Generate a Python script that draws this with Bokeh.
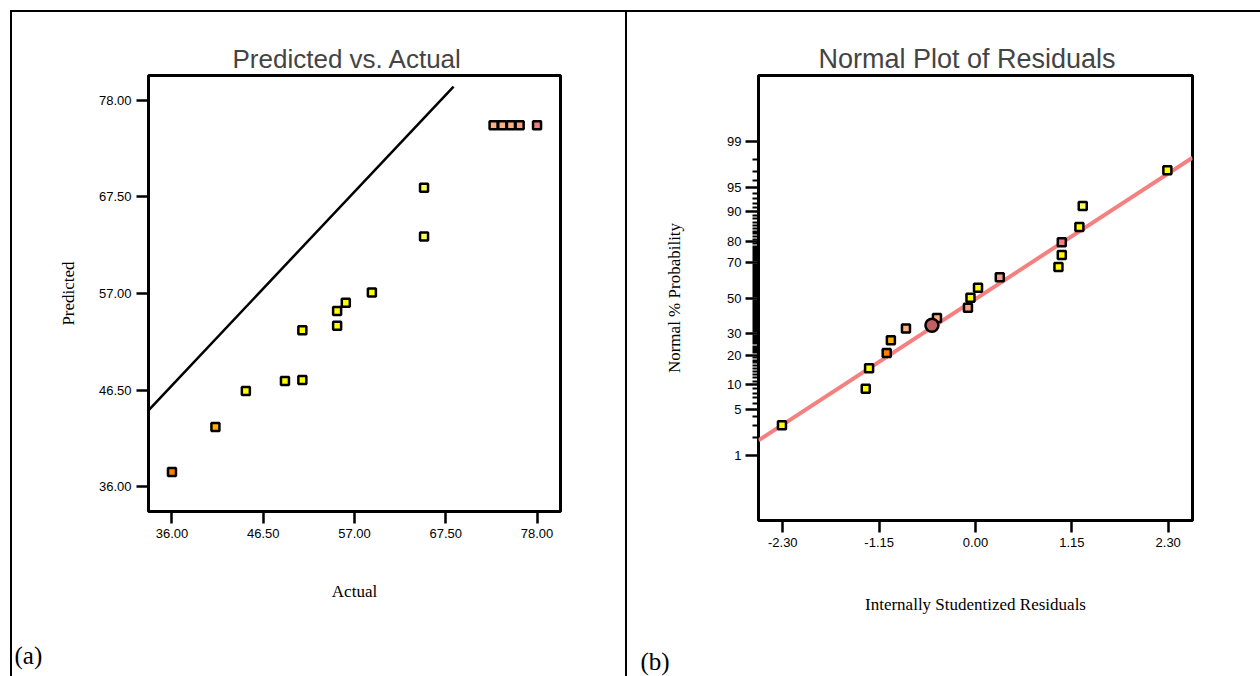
from statistics import NormalDist
from bokeh.plotting import figure
from bokeh.models import (ColumnDataSource, FixedTicker, NumeralTickFormatter,
                          CustomJSTickFormatter, Title, Range1d, Spacer)
from bokeh.layouts import column, row
from bokeh.embed import file_html
from bokeh.resources import INLINE

# ---------------- Panel (a): Predicted vs. Actual ----------------
actual = [36.0, 41.0, 44.5, 49.0, 51.0, 51.0, 55.0, 55.0, 56.0, 59.0,
          65.0, 65.0, 73.0, 74.0, 75.0, 76.0, 78.0]
predicted = [37.6, 42.5, 46.4, 47.5, 47.6, 53.0, 53.5, 55.1, 56.0, 57.1,
             63.2, 68.5, 75.3, 75.3, 75.3, 75.3, 75.3]
colors_a = ["#FF8000", "#FFB000", "#FFFF00", "#FFFF00", "#FFFF00", "#FFFF00",
            "#FFFF00", "#FFFF00", "#FFFF00", "#FFFF00", "#FFFF60", "#FFFF60",
            "#FFB080", "#FFB080", "#FFB080", "#F8A088", "#F08080"]
diag_x = [33.3, 68.4]
diag_y = [44.3, 79.5]
ticks_a = [36.0, 46.5, 57.0, 67.5, 78.0]

# ---------------- Panel (b): Normal Plot of Residuals ----------------
residuals = [-2.31, -1.31, -1.27, -1.06, -1.01, -0.83, -0.46, -0.09, -0.06,
             0.03, 0.29, 0.99, 1.03, 1.03, 1.24, 1.28, 2.29]
normal_pct = [3.0, 9.0, 15.0, 20.9, 26.8, 32.7, 38.5, 44.5, 50.4,
              56.3, 62.2, 67.9, 73.9, 79.7, 85.5, 91.4, 97.1]
colors_b = ["#FFFF00", "#FFFF00", "#FFFF00", "#FF8000", "#FFB000", "#FFB080",
            "#FFB080", "#F8A088", "#FFFF00", "#FFFF00", "#F8A088", "#FFFF00",
            "#FFFF00", "#F08080", "#FFFF00", "#FFFF60", "#FFFF00"]
hl_resid = [-0.52]
hl_pct = [34.5]
fit_resid = [-2.59, 2.59]
fit_pct = [1.77, 98.14]
ticks_b_x = [-2.30, -1.15, 0.00, 1.15, 2.30]
ticks_b_pct = [1, 5, 10, 20, 30, 50, 70, 80, 90, 95, 99]
minor_b_pct = [v for v in range(2, 99) if v not in ticks_b_pct]

nd = NormalDist()
def probit(v):
    return nd.inv_cdf(v / 100.0)

SANS = "Liberation Sans"
SERIF = "Liberation Serif"
H = 664


def style(p, title_size, title_offset):
    p.outline_line_color = "black"
    p.outline_line_width = 3
    p.grid.visible = False
    p.title.text_font = SANS
    p.title.text_font_size = title_size
    p.title.text_font_style = "normal"
    p.title.align = "left"
    p.title.offset = title_offset
    p.title.standoff = 4
    for ax in (p.xaxis[0], p.yaxis[0]):
        ax.axis_line_color = None
        ax.major_tick_line_width = 2.5
        ax.major_tick_in = 0
        ax.major_tick_out = 12
        ax.minor_tick_in = 0
        ax.minor_tick_out = 0
        ax.major_label_text_font = SANS
        ax.major_label_text_font_size = "13px"
        ax.major_label_text_color = "black"
        ax.major_label_standoff = 5
        ax.axis_label_text_font = SERIF
        ax.axis_label_text_font_size = "17px"
        ax.axis_label_text_font_style = "normal"
        ax.axis_label_text_color = "black"


def below_title(p, text, size, align, offset, standoff):
    p.add_layout(Title(text=text, align=align, offset=offset, standoff=standoff,
                       text_font=SERIF, text_font_size=size,
                       text_font_style="normal", text_color="black"), "below")


# ---- figure (a)
pa = figure(title="Predicted vs. Actual", frame_width=412, frame_height=436,
            min_border_left=136, min_border_right=65, min_border_top=62,
            min_border_bottom=H - 62 - 436,
            x_range=Range1d(33.3, 80.7), y_range=Range1d(33.3, 80.7),
            toolbar_location=None, output_backend="svg")
style(pa, "26px", 84)
pa.xaxis.ticker = FixedTicker(ticks=ticks_a)
pa.yaxis.ticker = FixedTicker(ticks=ticks_a)
pa.xaxis.formatter = NumeralTickFormatter(format="0.00")
pa.yaxis.formatter = NumeralTickFormatter(format="0.00")
pa.yaxis.axis_label = "Predicted"
pa.yaxis.axis_label_standoff = 18
below_title(pa, "Actual", "17px", "center", 0, 78)
below_title(pa, "(a)", "25px", "left", -134, 0)

pa.line(diag_x, diag_y, line_color="black", line_width=2.5)
src_a = ColumnDataSource(dict(x=actual, y=predicted, c=colors_a))
pa.scatter("x", "y", source=src_a, marker="square", size=8, line_width=2.5,
           line_color="black", fill_color="c")

# ---- figure (b)
pb = figure(title="Normal Plot of Residuals", frame_width=434, frame_height=445,
            min_border_left=131, min_border_right=55, min_border_top=63,
            min_border_bottom=H - 63 - 445,
            x_range=Range1d(-2.59, 2.59), y_range=Range1d(-3.29, 3.30),
            toolbar_location=None, output_backend="svg")
style(pb, "27px", 60)
pb.xaxis.ticker = FixedTicker(ticks=ticks_b_x)
pb.xaxis.formatter = NumeralTickFormatter(format="0.00")
zt = [probit(v) for v in ticks_b_pct]
pb.yaxis.ticker = FixedTicker(ticks=zt, minor_ticks=[probit(v) for v in minor_b_pct])
pb.yaxis.formatter = CustomJSTickFormatter(
    args=dict(zs=zt, labs=[str(v) for v in ticks_b_pct]),
    code="""
    let best = 0, bd = Infinity;
    for (let i = 0; i < zs.length; i++) {
        const d = Math.abs(zs[i] - tick);
        if (d < bd) { bd = d; best = i; }
    }
    return labs[best];
    """)
pb.yaxis.major_tick_out = 13
pb.yaxis.minor_tick_out = 6
pb.yaxis.minor_tick_line_width = 2
pb.yaxis.minor_tick_line_color = "black"
pb.yaxis.major_label_standoff = 4
pb.yaxis.axis_label = "Normal % Probability"
pb.yaxis.axis_label_standoff = 40
below_title(pb, "Internally Studentized Residuals", "17px", "center", 0, 87)
below_title(pb, "(b)", "25px", "left", -118, -24)

pb.line(fit_resid, [probit(v) for v in fit_pct], line_color="#F48080", line_width=4)
src_b = ColumnDataSource(dict(x=residuals, y=[probit(v) for v in normal_pct], c=colors_b))
pb.scatter("x", "y", source=src_b, marker="square", size=8, line_width=2.5,
           line_color="black", fill_color="c")
pb.scatter(hl_resid, [probit(v) for v in hl_pct], marker="circle", size=13,
           line_width=2.5, line_color="black", fill_color="#C06060")


def rule(w, h):
    return Spacer(width=w, height=h, styles={"background-color": "black"})


layout = column(
    Spacer(height=10, width=10),
    row(Spacer(width=10, height=2), rule(1250, 2)),
    row(Spacer(width=10, height=H), rule(2, H), pa, rule(2, H), pb),
)

open("out.html", "w").write(file_html(layout, INLINE))
